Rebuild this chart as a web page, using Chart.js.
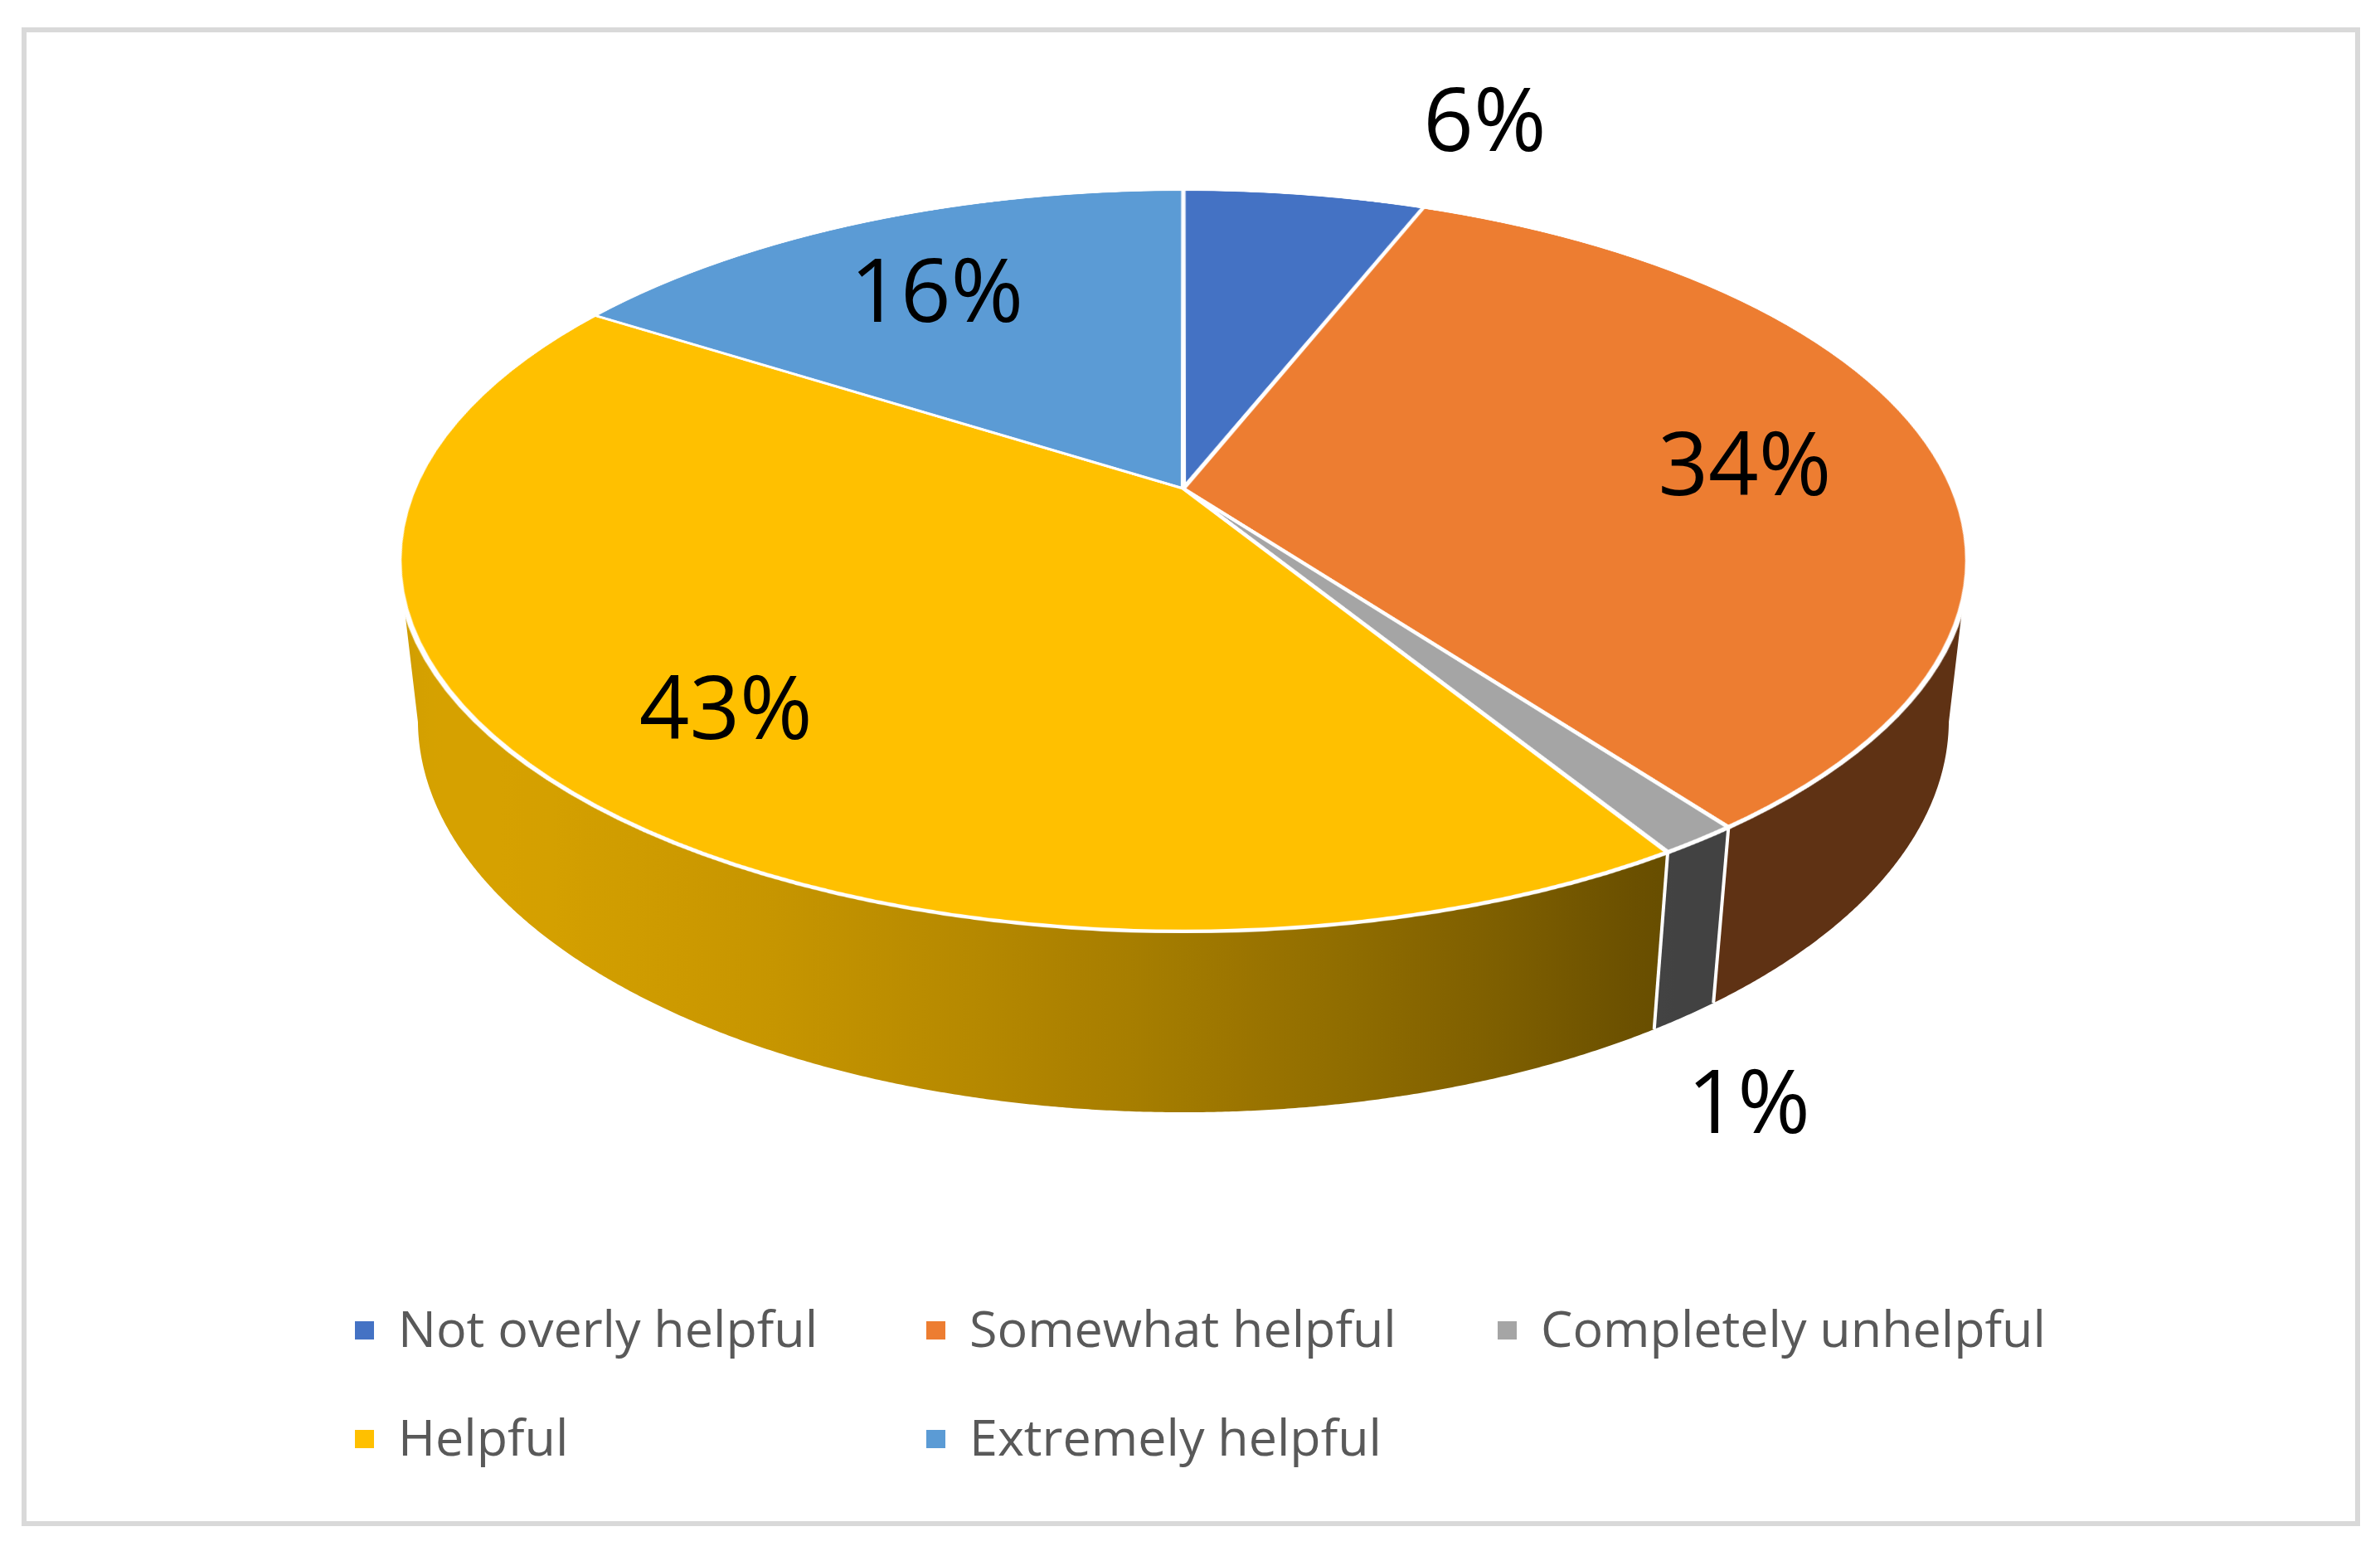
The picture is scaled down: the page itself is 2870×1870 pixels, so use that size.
<!DOCTYPE html>
<html>
<head>
<meta charset="utf-8">
<script src="https://cdn.jsdelivr.net/npm/chart.js@4.4.1/dist/chart.umd.min.js"></script>
<style>
html,body{margin:0;padding:0;background:#ffffff;}
body{width:2870px;height:1870px;position:relative;overflow:hidden;}
#frame{position:absolute;left:26px;top:33px;width:2808px;height:1795px;border:6px solid #D9D9D9;}
#c{position:absolute;left:0;top:0;width:2870px;height:1870px;}
.lgt{position:absolute;font-family:"Open Sans",sans-serif;font-size:61px;line-height:61px;color:#595959;white-space:nowrap;}
.lgm{position:absolute;width:23px;height:22px;}
</style>
</head>
<body>
<div id="frame"></div>
<canvas id="c" width="2870" height="1870"></canvas>
<div id="legend"></div>
<script>
// ---- data (shares in %; labels show them rounded) ----
const categories = ['Not overly helpful', 'Somewhat helpful', 'Completely unhelpful', 'Helpful', 'Extremely helpful'];
const values = [6, 33.8, 1.4, 42.8, 16];
const colors = ['#4472C4', '#ED7D31', '#A5A5A5', '#FFC000', '#5B9BD5'];

// ---- 3D camera used to project the flat Chart.js pie ----
const CAM = {cx: 1427, cy: 589, F: 4225, D: 4.553, sin: 0.4634, cos: 0.886, H: 0.2356};
function proj(u, v, z) {
  const d = CAM.D - v * CAM.cos - z * CAM.sin;
  return {x: CAM.cx + CAM.F * u / d, y: CAM.cy + CAM.F * (v * CAM.sin - z * CAM.cos) / d};
}
function vOfY(y) {
  const dy = y - CAM.cy;
  return dy * CAM.D / (CAM.F * CAM.sin + dy * CAM.cos);
}
function shade(hex, f) {
  const n = parseInt(hex.slice(1), 16);
  const r = Math.round(((n >> 16) & 255) * f), g = Math.round(((n >> 8) & 255) * f), b = Math.round((n & 255) * f);
  return 'rgb(' + r + ',' + g + ',' + b + ')';
}
function light(t) {
  return 0.4 + 0.44 * Math.max(0, -0.85 * Math.cos(t) + 0.53 * Math.sin(t));
}

const pie3d = {
  id: 'pie3d',
  afterDatasetsDraw(chart) {
    const ctx = chart.ctx, cv = chart.canvas;
    const arcs = chart.getDatasetMeta(0).data;
    const p0 = arcs[0].getProps(['x', 'y', 'outerRadius'], true);
    const R = p0.outerRadius, fx = p0.x, fy = p0.y;
    const m = 30, Rm = R + m;
    const size = Math.ceil(2 * Rm);
    const flat = document.createElement('canvas');
    flat.width = size; flat.height = size;
    flat.getContext('2d').drawImage(cv, fx - Rm, fy - Rm, size, size, 0, 0, size, size);

    ctx.save();
    ctx.setTransform(1, 0, 0, 1, 0, 0);
    ctx.clearRect(0, 0, cv.width, cv.height);

    // ---- side walls ----
    const tA = Math.asin(0.195), tB = Math.PI - tA;
    const xL = proj(Math.cos(tB), Math.sin(tB), 0).x - 30;
    const xR = proj(Math.cos(tA), Math.sin(tA), 0).x + 30;
    const boundaries = [];
    arcs.forEach((arc, i) => {
      const a = arc.getProps(['startAngle', 'endAngle'], true);
      boundaries.push(a.startAngle);
      [-2 * Math.PI, 0, 2 * Math.PI].forEach(off => {
        const t1 = Math.max(a.startAngle + off, tA), t2 = Math.min(a.endAngle + off, tB);
        if (t2 <= t1) return;
        const N = Math.max(2, Math.ceil((t2 - t1) / 0.004));
        ctx.beginPath();
        for (let k = 0; k <= N; k++) {
          const t = t1 + (t2 - t1) * k / N;
          const p = proj(Math.cos(t), Math.sin(t), 0);
          if (k === 0) ctx.moveTo(p.x, p.y); else ctx.lineTo(p.x, p.y);
        }
        for (let k = N; k >= 0; k--) {
          const t = t1 + (t2 - t1) * k / N;
          const p = proj(Math.cos(t), Math.sin(t), -CAM.H);
          ctx.lineTo(p.x, p.y);
        }
        ctx.closePath();
        const g = ctx.createLinearGradient(xL, 0, xR, 0);
        const S = 48;
        for (let j = 0; j <= S; j++) {
          const t = tB - (tB - tA) * j / S;
          const pt = proj(Math.cos(t), Math.sin(t), -CAM.H / 2);
          const pos = Math.min(1, Math.max(0, (pt.x - xL) / (xR - xL)));
          g.addColorStop(pos, shade(colors[i], light(t)));
        }
        ctx.fillStyle = g;
        ctx.fill();
      });
    });
    ctx.strokeStyle = '#ffffff';
    ctx.lineWidth = 4;
    boundaries.forEach(b0 => {
      [-2 * Math.PI, 0, 2 * Math.PI].forEach(off => {
        const b = b0 + off;
        if (b <= tA || b >= tB) return;
        const p1 = proj(Math.cos(b), Math.sin(b), 0), p2 = proj(Math.cos(b), Math.sin(b), -CAM.H);
        ctx.beginPath(); ctx.moveTo(p1.x, p1.y); ctx.lineTo(p2.x, p2.y); ctx.stroke();
      });
    });

    // ---- top face: perspective projection of the flat pie, row by row ----
    ctx.imageSmoothingEnabled = true;
    ctx.imageSmoothingQuality = 'high';
    const vmax = Rm / R;
    const yTop = Math.floor(proj(0, -vmax, 0).y) - 1, yBot = Math.ceil(proj(0, vmax, 0).y) + 1;
    for (let y = yTop; y < yBot; y++) {
      const v0 = vOfY(y), v1 = vOfY(y + 1);
      if (v1 < -vmax || v0 > vmax) continue;
      const a0 = Math.max(v0, -vmax), a1 = Math.min(v1, vmax);
      const vm = (a0 + a1) / 2;
      const Sx = CAM.F / (CAM.D - vm * CAM.cos);
      const ue = Math.min(vmax, Math.sqrt(Math.max(vmax * vmax - vm * vm, 0)) + 0.01);
      const sy = Rm + a0 * R, sh = Math.max((a1 - a0) * R, 0.05);
      const sx = Math.max(0, Rm - ue * R), sw = Math.min(size - sx, 2 * ue * R);
      ctx.drawImage(flat, sx, sy, sw, sh, CAM.cx - ue * Sx, y, 2 * ue * Sx, 1);
    }

    // ---- data labels ----
    const total = values.reduce((s, x) => s + x, 0);
    ctx.fillStyle = '#000000';
    ctx.font = '106px "Open Sans", sans-serif';
    ctx.textBaseline = 'alphabetic';
    const capHalf = 0.357 * 106;
    arcs.forEach((arc, i) => {
      const a = arc.getProps(['startAngle', 'endAngle'], true);
      const share = values[i] / total;
      const txt = Math.round(share * 100) + '%';
      if (share >= 0.1) {
        const tm = (a.startAngle + a.endAngle) / 2, r = 0.75;
        const p = proj(r * Math.cos(tm), r * Math.sin(tm), 0);
        ctx.textAlign = 'center';
        ctx.fillText(txt, p.x, p.y + capHalf + 12);
      } else {
        const c = Math.cos(a.endAngle), s = Math.sin(a.endAngle);
        ctx.textAlign = 'left';
        if (s < 0) {
          const p = proj(c, s, 0);
          ctx.fillText(txt, p.x, p.y - 106 + capHalf);
        } else {
          const p = proj(c, s, -CAM.H);
          ctx.fillText(txt, p.x + 40, p.y + 87 + capHalf);
        }
      }
    });
    ctx.restore();
  }
};

let chart = null;
function build() {
  if (chart) { chart.draw(); return; }
  chart = new Chart(document.getElementById('c'), {
    type: 'pie',
    data: {
      labels: categories,
      datasets: [{data: values, backgroundColor: colors, borderColor: '#ffffff', borderWidth: 6}]
    },
    options: {
      responsive: false,
      devicePixelRatio: 1,
      animation: false,
      events: [],
      layout: {padding: 40},
      plugins: {legend: {display: false}, tooltip: {enabled: false}}
    },
    plugins: [pie3d]
  });
}
build();
if (document.fonts && document.fonts.load) {
  document.fonts.load('106px "Open Sans"').then(build, build);
}

// ---- legend (HTML) ----
const lg = document.getElementById('legend');
categories.forEach((name, i) => {
  const col = i % 3, row = Math.floor(i / 3);
  const mx = 428 + col * 689;
  const cyCap = row === 0 ? 1602 : 1733;
  const mk = document.createElement('div');
  mk.className = 'lgm';
  mk.style.left = mx + 'px';
  mk.style.top = (cyCap - 9) + 'px';
  mk.style.background = colors[i];
  lg.appendChild(mk);
  const tx = document.createElement('div');
  tx.className = 'lgt';
  tx.style.left = (mx + 52) + 'px';
  tx.style.top = (cyCap - 32) + 'px';
  tx.textContent = name;
  lg.appendChild(tx);
});
</script>
</body>
</html>
